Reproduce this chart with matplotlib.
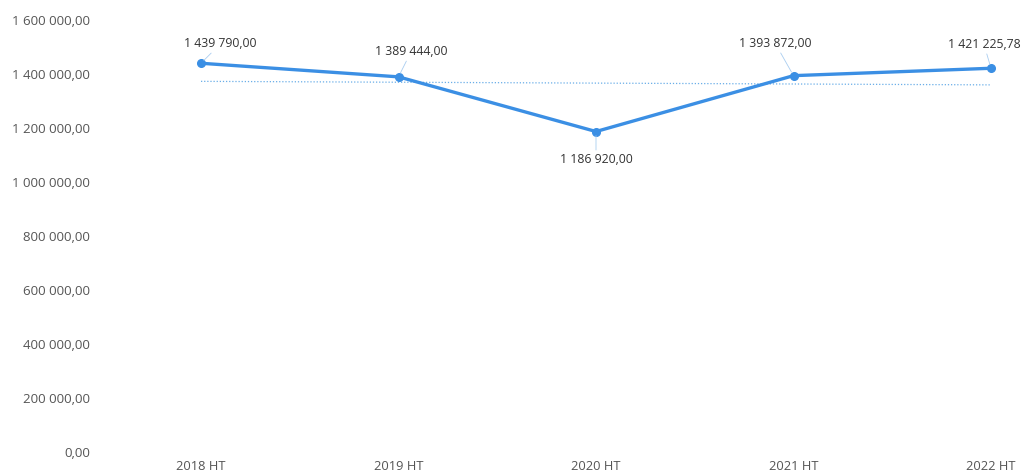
import numpy as np
import matplotlib.pyplot as plt
from matplotlib.ticker import FuncFormatter

# Chart data
years = ['2018 HT', '2019 HT', '2020 HT', '2021 HT', '2022 HT']
values = [1439790.00, 1389444.00, 1186920.00, 1393872.00, 1421225.78]
y_ticks = [0, 200000, 400000, 600000, 800000, 1000000, 1200000, 1400000, 1600000]

# label offsets in points (dx, dy) from each marker
label_offsets = [(14, 14), (9, 18), (0, -20), (-13, 23), (-5, 17)]

line_color = '#3b8fe4'
text_color = '#555555'

plt.rcParams['font.family'] = ['Open Sans', 'DejaVu Sans']


def fr_num(v, pos=None):
    s = f'{v:,.2f}'
    return s.replace(',', ' ').replace('.', ',')


fig = plt.figure(figsize=(10.25, 4.75), dpi=100)
ax = fig.add_axes([201 / 1025, 23 / 475, 790 / 1025, 432 / 475])

x = np.arange(len(years))
ax.plot(x, values, color=line_color, lw=2.4, marker='o', ms=5.5, clip_on=False, zorder=3)

# linear trend line
coef = np.polyfit(x, values, 1)
ax.plot(x, np.polyval(coef, x), color='#6aaee8', lw=0.9, ls=(0, (1, 1.5)), zorder=2)

for xi, v, (dx, dy) in zip(x, values, label_offsets):
    ax.annotate(fr_num(v), (xi, v), xytext=(dx, dy), textcoords='offset points',
                ha='center', va='center', fontsize=8.8, color='#333333',
                arrowprops=dict(arrowstyle='-', color='#a9cdf0', lw=0.6, shrinkA=0, shrinkB=3))

ax.set_xlim(0, 4)
ax.set_ylim(0, 1600000)
ax.set_xticks(x)
ax.set_xticklabels(years)
ax.set_yticks(y_ticks)
ax.yaxis.set_major_formatter(FuncFormatter(fr_num))

for s in ax.spines.values():
    s.set_visible(False)
ax.tick_params(axis='y', length=0, pad=80, labelsize=9.5, labelcolor=text_color)
ax.tick_params(axis='x', length=0, pad=6, labelsize=9.3, labelcolor=text_color)
for lbl in ax.get_yticklabels():
    lbl.set_ha('right')

plt.savefig('out.png', dpi=100)
